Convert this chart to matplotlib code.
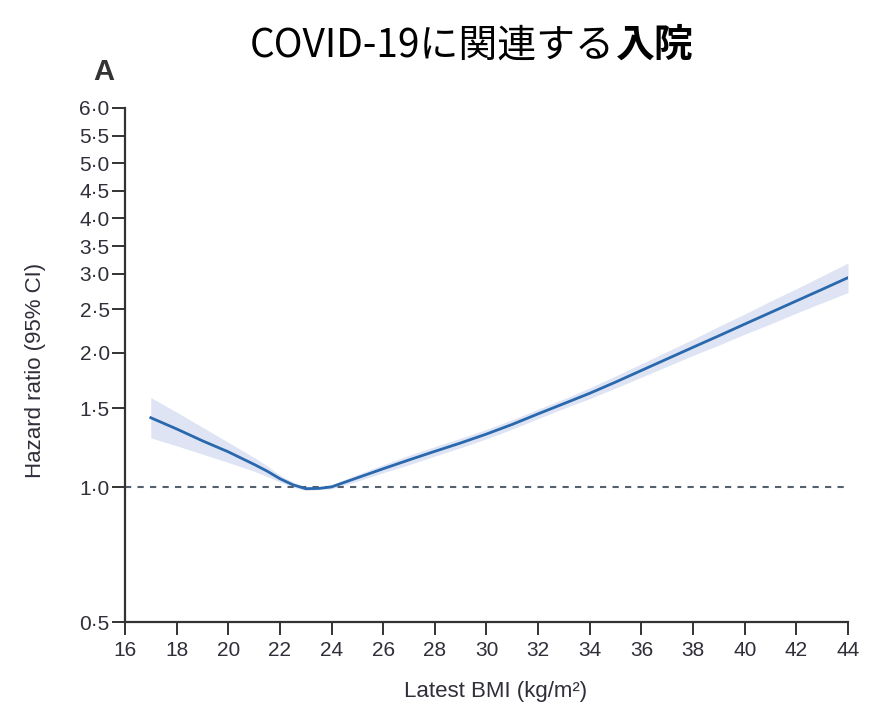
#!/usr/bin/env python3
"""
Hazard ratio of COVID-19 related hospital admission by latest BMI
"""

import matplotlib
matplotlib.use('Agg')
import matplotlib.pyplot as plt
from matplotlib.scale import FuncScale
import numpy as np

# BMI grid and spline estimates
bmi = [17, 18, 19, 20, 21, 21.5, 22, 22.5, 23, 23.5, 24, 25, 26, 27, 28,
       29, 30, 31, 32, 33, 34, 35, 36, 37, 38, 39, 40, 41, 42, 43, 44]
hazard_ratio = [1.43, 1.35, 1.27, 1.20, 1.125, 1.087, 1.045, 1.013, 0.993,
                0.994, 1.002, 1.05, 1.10, 1.151, 1.203, 1.256, 1.315, 1.382,
                1.459, 1.538, 1.622, 1.718, 1.824, 1.936, 2.055, 2.18, 2.315,
                2.457, 2.608, 2.768, 2.94]
ci_lower = [1.289, 1.238, 1.186, 1.136, 1.086, 1.057, 1.028, 1.001, 0.983,
            0.988, 0.992, 1.032, 1.078, 1.123, 1.174, 1.226, 1.283, 1.349,
            1.424, 1.501, 1.578, 1.666, 1.762, 1.863, 1.971, 2.078, 2.198,
            2.317, 2.45, 2.583, 2.723]
ci_upper = [1.587, 1.472, 1.362, 1.26, 1.166, 1.117, 1.064, 1.027, 1.001,
            1.003, 1.013, 1.068, 1.123, 1.179, 1.233, 1.287, 1.347, 1.416,
            1.495, 1.576, 1.668, 1.773, 1.888, 2.011, 2.142, 2.289, 2.438,
            2.606, 2.776, 2.967, 3.195]

x_ticks = list(range(16, 45, 2))
y_ticks = [0.5, 1.0, 1.5, 2.0, 2.5, 3.0, 3.5, 4.0, 4.5, 5.0, 5.5, 6.0]
y_tick_labels = ['0·5', '1·0', '1·5', '2·0', '2·5', '3·0',
                 '3·5', '4·0', '4·5', '5·0', '5·5', '6·0']

# the panel is log scaled up to 3.0, then evenly spaced above it
LOG3 = np.log2(3.0)
K = 0.41


def forward(y):
    y = np.asarray(y, dtype=float)
    safe = np.clip(y, 1e-6, None)
    return np.where(y <= 3.0, np.log2(safe), LOG3 + (y - 3.0) * K)


def backward(t):
    t = np.asarray(t, dtype=float)
    return np.where(t <= LOG3, np.power(2.0, np.minimum(t, LOG3)),
                    3.0 + (t - LOG3) / K)


def create_chart():
    ink = '#2f2f3a'
    fig = plt.figure(figsize=(8.85, 7.19), dpi=100)
    ax = fig.add_axes([0.1412, 0.1349, 0.817, 0.7149])

    ax.set_yscale(FuncScale(ax.yaxis, (forward, backward)))
    ax.set_xlim(16, 44)
    ax.set_ylim(0.5, 6.0)

    ax.fill_between(bmi, ci_lower, ci_upper, color='#dfe4f4', lw=0)
    ax.axhline(1.0, color='#55606e', lw=1.5, ls=(0, (3, 3)))
    ax.plot(bmi, hazard_ratio, color='#2a68ad', lw=2)

    ax.set_xticks(x_ticks)
    ax.set_xticklabels([str(v) for v in x_ticks])
    ax.set_yticks(y_ticks)
    ax.set_yticklabels(y_tick_labels)
    ax.minorticks_off()

    for side in ['top', 'right']:
        ax.spines[side].set_visible(False)
    for side in ['left', 'bottom']:
        ax.spines[side].set_linewidth(1.6)
        ax.spines[side].set_color('#333333')

    ax.tick_params(axis='both', length=9.5, width=1.4, color='#333333',
                   labelsize=15, labelcolor=ink)
    ax.tick_params(axis='y', pad=1.5)
    ax.tick_params(axis='x', pad=4)
    for lab in ax.get_xticklabels() + ax.get_yticklabels():
        lab.set_family('Liberation Sans')

    ax.set_xlabel('Latest BMI (kg/m²)', fontsize=16, color=ink,
                  family='Liberation Sans')
    ax.set_ylabel('Hazard ratio (95% CI)', fontsize=16, color=ink,
                  family='Liberation Sans')
    ax.xaxis.set_label_coords(0.513, -0.115)
    ax.yaxis.set_label_coords(-0.109, 0.49)

    # panel letter
    fig.text(93 / 885, 1 - 80 / 719, 'A', fontsize=21, weight='bold',
             color='#333333', family='Liberation Sans', va='baseline')

    # title, bold last two characters
    title_font = ['Noto Sans CJK JP', 'DejaVu Sans']
    fig.text(0.694, 1 - 57 / 719, 'COVID-19に関連する', fontsize=28,
             family=title_font, ha='right', va='baseline', color='black')
    fig.text(0.696, 1 - 57 / 719, '入院', fontsize=28, weight='bold',
             family=title_font, ha='left', va='baseline', color='black')

    fig.savefig('out.png', dpi=100, facecolor='white')


if __name__ == '__main__':
    create_chart()
